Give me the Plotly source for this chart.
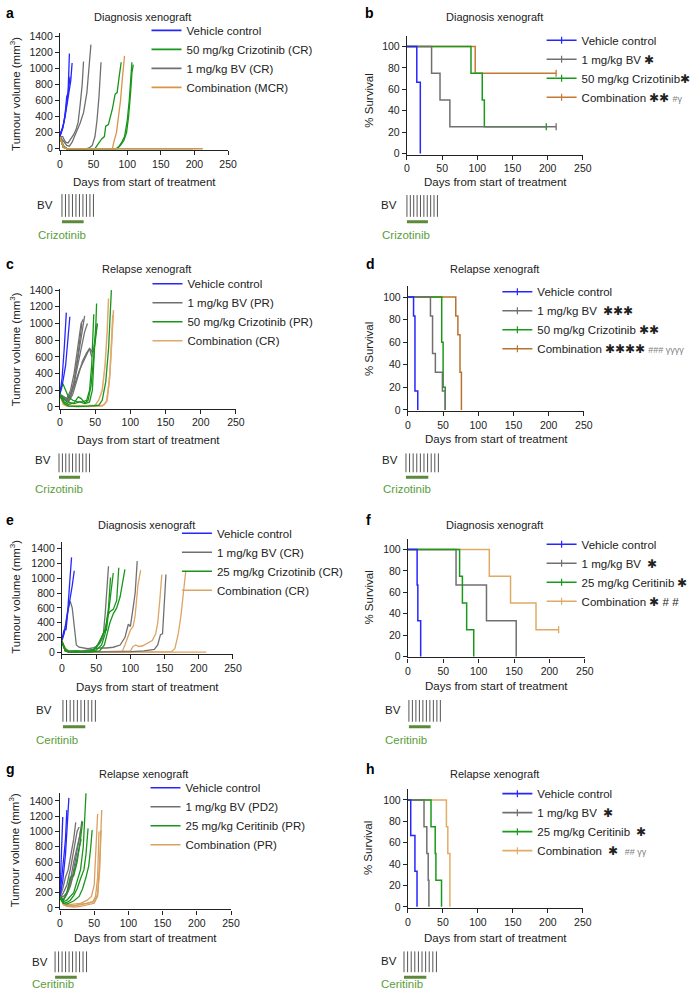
import plotly.graph_objects as go

W, H = 699, 997

# ---------------- DATA ----------------
# Panel a: tumour volume, diagnosis xenograft (crizotinib)
A_VEH = [
    ([0, 4, 7, 10, 12, 14], [150, 250, 380, 650, 700, 1190]),
    ([0, 4, 8, 11, 14, 16, 18], [180, 260, 420, 600, 750, 850, 1070]),
    ([0, 5, 9, 12, 15], [160, 300, 500, 680, 900]),
]
A_BV = [
    ([0, 4, 8, 12, 16, 20, 24, 27, 30, 33, 35], [150, 150, 80, 70, 120, 170, 240, 330, 550, 800, 1090]),
    ([0, 5, 10, 14, 18, 22, 26, 30, 35, 40, 43, 46], [150, 100, 40, 30, 80, 160, 230, 320, 450, 700, 1000, 1300]),
    ([0, 5, 10, 20, 40, 44, 48, 52, 55, 58, 61], [150, 40, 0, 0, 0, 10, 40, 150, 350, 650, 1080]),
    ([0, 5, 10, 212], [140, 20, 0, 0]),
]
A_CRIZ = [
    ([0, 5, 10, 52, 56, 62, 66, 68, 72, 75, 78, 82, 85, 88, 91],
     [150, 20, 0, 0, 50, 120, 150, 280, 300, 400, 500, 680, 700, 900, 1080]),
    ([0, 5, 10, 84, 88, 92, 96, 100, 103, 105, 107], [140, 15, 0, 0, 30, 80, 150, 350, 600, 850, 1080]),
    ([0, 5, 10, 85, 90, 95, 99, 102, 105, 107, 109], [140, 15, 0, 0, 40, 100, 200, 400, 700, 950, 1050]),
    ([0, 5, 10, 198], [150, 20, 0, 0]),
]
A_COMB = [
    ([0, 5, 10, 78, 80, 84, 87, 90, 93, 96], [150, 20, 0, 0, 80, 200, 400, 600, 900, 1160]),
    ([0, 6, 10, 212], [140, 10, 0, 0]),
]

# Panel b: survival (% survival steps), diagnosis xenograft
B_VEH = ([0, 14, 19], [100, 66.7, 0])
B_BV = ([0, 35, 47, 61, 212], [100, 75, 50, 25, 25])
B_CRIZ = ([0, 91, 107, 110, 198], [100, 75, 50, 25, 25])
B_COMB = ([0, 97, 212], [100, 75, 75])
B_CENSOR = {"bv": ([212], [25]), "criz": ([198], [25]), "comb": ([212], [75])}

# Panel c: tumour volume, relapse xenograft (crizotinib)
C_VEH = [
    ([0, 3, 6, 9], [160, 350, 700, 1130]),
    ([0, 4, 8, 11, 14], [180, 300, 500, 750, 1080]),
]
C_BV = [
    ([0, 5, 10, 15, 20, 25, 30, 33], [150, 120, 100, 200, 400, 700, 1000, 1050]),
    ([0, 5, 10, 15, 20, 25, 30, 35], [140, 100, 80, 150, 300, 550, 850, 1090]),
    ([0, 6, 12, 18, 24, 30, 35, 39], [130, 90, 80, 200, 450, 700, 900, 1000]),
    ([0, 6, 12, 18, 25, 32, 38, 42, 45], [150, 100, 60, 150, 350, 550, 650, 700, 600]),
    ([0, 6, 12, 20, 28, 36, 42, 47, 50, 53], [140, 110, 100, 250, 450, 600, 700, 650, 800, 1000]),
    ([0, 8, 14, 20, 26, 31], [120, 80, 90, 300, 650, 1000]),
]
C_CRIZ = [
    ([0, 4, 8, 12, 18, 25, 32, 38, 42, 45, 48], [150, 280, 200, 120, 80, 60, 60, 80, 200, 500, 1110]),
    ([0, 5, 10, 20, 28, 35, 40, 44, 48, 51, 52], [140, 100, 60, 40, 60, 40, 80, 250, 600, 1000, 1240]),
    ([0, 6, 12, 20, 26, 30, 36, 42, 46, 49, 53], [150, 60, 30, 50, 120, 100, 40, 60, 200, 700, 1000]),
    ([0, 6, 12, 25, 40, 55, 60, 65, 69, 71, 73], [130, 40, 10, 5, 10, 20, 80, 300, 700, 1100, 1400]),
]
C_COMB = [
    ([0, 5, 10, 30, 50, 55, 60, 64, 67, 69], [150, 40, 20, 10, 20, 80, 200, 500, 900, 1300]),
    ([0, 5, 10, 40, 60, 66, 70, 73, 76], [140, 30, 10, 5, 10, 60, 300, 700, 1160]),
    ([0, 5, 10, 40, 62, 67, 71, 74, 75], [140, 30, 10, 5, 20, 80, 400, 900, 1100]),
]

# Panel d: survival, relapse xenograft
D_VEH = ([0, 8, 10, 14], [100, 83.3, 16.7, 0])
D_BV = ([0, 32, 35, 39, 49, 53], [100, 83.3, 50, 33.3, 16.7, 0])
D_CRIZ = ([0, 48, 50, 53], [100, 60, 20, 0])
D_COMB = ([0, 68, 71, 74, 76], [100, 83.3, 66.7, 33.3, 0])

# Panel e: tumour volume, diagnosis xenograft (ceritinib)
E_VEH = [
    ([0, 3, 6, 8, 11, 14], [180, 300, 310, 500, 900, 1280]),
    ([0, 3, 6, 9, 12, 15, 18], [170, 250, 400, 550, 750, 900, 1100]),
]
E_BV = [
    ([0, 4, 8, 12, 15, 18, 21, 25, 30, 38, 45, 50, 55, 60, 63, 66, 68],
     [150, 300, 550, 690, 600, 300, 100, 70, 60, 50, 60, 80, 120, 200, 500, 900, 1160]),
    ([0, 5, 10, 30, 45, 55, 65, 75, 85, 92, 97, 100, 104, 107, 110],
     [150, 40, 20, 20, 40, 60, 60, 70, 100, 200, 380, 350, 600, 800, 1230]),
    ([0, 5, 10, 60, 100, 120, 135, 140, 144, 147, 150, 152],
     [140, 20, 5, 5, 10, 20, 40, 100, 240, 250, 700, 1050]),
]
E_CER = [
    ([0, 5, 10, 20, 30, 45, 52, 58, 62, 65, 68, 71], [150, 30, 10, 20, 10, 20, 100, 200, 280, 400, 600, 1010]),
    ([0, 5, 10, 25, 40, 50, 56, 60, 65, 68, 72, 75], [140, 20, 10, 5, 15, 60, 150, 250, 300, 550, 800, 1070]),
    ([0, 5, 10, 30, 50, 58, 63, 67, 70, 75, 80, 83], [140, 30, 10, 10, 30, 100, 250, 500, 550, 580, 700, 1140]),
    ([0, 5, 10, 40, 55, 62, 66, 70, 75, 80, 85, 88, 92], [130, 20, 5, 5, 20, 100, 250, 400, 520, 600, 750, 900, 1120]),
]
E_COMB = [
    ([0, 5, 10, 80, 88, 92, 96, 100, 104, 107, 111, 115], [150, 30, 5, 5, 10, 100, 200, 300, 350, 500, 900, 1110]),
    ([0, 5, 10, 60, 100, 104, 108, 112, 118, 125, 132, 137, 140, 143, 146],
     [150, 60, 20, 10, 20, 80, 100, 80, 90, 120, 160, 250, 400, 700, 1050]),
    ([0, 5, 10, 140, 160, 165, 170, 174, 178, 181], [150, 20, 5, 5, 10, 50, 250, 500, 800, 1100]),
    ([0, 5, 10, 211], [140, 20, 5, 5]),
]

# Panel f: survival, diagnosis xenograft (ceritinib)
F_VEH = ([0, 13, 14, 18], [100, 66.7, 33.3, 0])
F_BV = ([0, 68, 111, 153], [100, 66.7, 33.3, 0])
F_CER = ([0, 73, 77, 83, 93], [100, 75, 50, 25, 0])
F_COMB = ([0, 115, 145, 181, 213], [100, 75, 50, 25, 25])
F_CENSOR = {"comb": ([213], [25])}

# Panel g: tumour volume, relapse xenograft (ceritinib)
G_VEH = [
    ([0, 2, 4], [200, 600, 1190]),
    ([0, 3, 6, 8, 10], [180, 400, 700, 900, 1280]),
    ([0, 4, 8, 11, 13], [150, 350, 700, 1100, 1440]),
]
G_BV = [
    ([0, 4, 8, 12, 16, 20, 23], [150, 250, 400, 500, 700, 900, 1120]),
    ([0, 5, 10, 15, 20, 25, 28], [130, 200, 300, 500, 750, 1000, 1060]),
    ([0, 5, 10, 15, 20, 25, 29, 32], [150, 150, 200, 350, 600, 800, 950, 1140]),
    ([0, 5, 10, 15, 20, 25, 28, 31], [120, 100, 180, 280, 450, 650, 780, 900]),
    ([0, 6, 12, 18, 24, 27, 30], [140, 120, 220, 400, 700, 850, 1000]),
]
G_CER = [
    ([0, 5, 10, 15, 20, 25, 30, 33], [150, 100, 200, 400, 420, 600, 900, 1130]),
    ([0, 5, 10, 15, 20, 25, 30, 34, 38], [140, 80, 100, 150, 200, 350, 500, 800, 1500]),
    ([0, 5, 10, 15, 20, 25, 30, 35, 38, 41], [130, 60, 70, 100, 160, 250, 380, 500, 700, 1040]),
    ([0, 5, 10, 20, 28, 33, 38, 42, 45, 47], [130, 60, 50, 90, 150, 250, 400, 550, 800, 1020]),
]
G_COMB = [
    ([0, 5, 10, 20, 30, 40, 46, 50, 53, 55], [150, 50, 40, 50, 60, 100, 150, 300, 800, 1230]),
    ([0, 5, 10, 20, 30, 40, 48, 52, 55, 57], [150, 60, 30, 30, 40, 60, 80, 150, 400, 1000]),
    ([0, 5, 10, 20, 30, 40, 50, 55, 58, 60], [140, 40, 20, 10, 20, 40, 60, 150, 500, 1020]),
    ([0, 5, 10, 20, 30, 40, 50, 55, 58, 61], [140, 50, 30, 20, 50, 60, 80, 180, 600, 1280]),
]

# Panel h: survival, relapse xenograft (ceritinib)
H_VEH = ([0, 4, 10, 13], [100, 66.7, 33.3, 0])
H_BV = ([0, 23, 27, 29, 30], [100, 75, 50, 25, 0])
H_CER = ([0, 33, 39, 40, 48], [100, 75, 50, 25, 0])
H_COMB = ([0, 55, 57, 60], [100, 75, 50, 0])

# Treatment schedule glyphs
BV_DOSE_DAYS = [0, 5, 10, 15, 20, 25, 30, 35, 40, 45]
ALK_SPAN_DAYS = [0, 31]

# Axis ticks
X_TICKS = [0, 50, 100, 150, 200, 250]
VOL_TICKS = [0, 200, 400, 600, 800, 1000, 1200, 1400]
SURV_TICKS = [0, 20, 40, 60, 80, 100]

STAR = "\u2731"
def gray_small(t):
    return '<span style="color:#808080;font-size:9px">' + t + '</span>'

LEG_A = ["Vehicle control", "50 mg/kg Crizotinib (CR)", "1 mg/kg BV (CR)", "Combination (MCR)"]
LEG_B = ["Vehicle control", "1 mg/kg BV " + STAR, "50 mg/kg Crizotinib" + STAR,
         "Combination " + STAR + STAR + " " + gray_small("#\u03b3")]
LEG_C = ["Vehicle control", "1 mg/kg BV (PR)", "50 mg/kg Crizotinib (PR)", "Combination (CR)"]
LEG_D = ["Vehicle control", "1 mg/kg BV  " + STAR * 3, "50 mg/kg Crizotinib " + STAR * 2,
         "Combination " + STAR * 4 + " " + gray_small("### \u03b3\u03b3\u03b3\u03b3")]
LEG_E = ["Vehicle control", "1 mg/kg BV (CR)", "25 mg/kg Crizotinib (CR)", "Combination (CR)"]
LEG_F = ["Vehicle control", "1 mg/kg BV  " + STAR, "25 mg/kg Ceritinib " + STAR, "Combination " + STAR + " # #"]
LEG_G = ["Vehicle control", "1 mg/kg BV (PD2)", "25 mg/kg Ceritinib (PR)", "Combination (PR)"]
LEG_H = ["Vehicle control", "1 mg/kg BV  " + STAR, "25 mg/kg Ceritinib  " + STAR,
         "Combination  " + STAR + "  " + gray_small("## \u03b3\u03b3")]

BLUE = "#2626ff"
GRAY = "#707070"
GREEN = "#17961a"

# ---------------- LAYOUT HELPERS ----------------
FONT = "Liberation Sans, Arial, sans-serif"
INK = "#222222"


def xdom(p0, p250, lo, hi):
    s = (p250 - p0) / 250.0
    return [(p0 + lo * s) / W, (p0 + hi * s) / W]


def ydom(p_lo_val, v0, p_hi_val, v1, lo, hi):
    s = (p_lo_val - p_hi_val) / (v1 - v0)
    bottom = p_lo_val + (v0 - lo) * s
    top = p_hi_val - (hi - v1) * s
    return [1 - bottom / H, 1 - top / H]


fig = go.Figure()
layout = {}
annotations = []


def ann(text, x, y, size=11.5, color=INK, angle=0, xanchor="center", bold=False):
    if bold:
        text = "<b>" + text + "</b>"
    annotations.append(dict(text=text, x=x / W, y=1 - y / H, xref="paper", yref="paper",
                            showarrow=False, font=dict(size=size, color=color, family=FONT),
                            textangle=angle, xanchor=xanchor, yanchor="middle"))


def axis_key(kind, i):
    return kind + ("axis" if i == 1 else "axis%d" % i)


def ref(kind, i):
    return kind if i == 1 else kind + str(i)


PANELS = {
    1: dict(x0=58, x250=229, y0=145, yt=32, tv=1400, hi=1440, kind="vol"),
    2: dict(x0=411, x250=590, y0=150, yt=42, tv=100, hi=110, kind="surv"),
    3: dict(x0=58, x250=237, y0=406, yt=288, tv=1400, hi=1410, kind="vol"),
    4: dict(x0=412, x250=591, y0=409, yt=295, tv=100, hi=110, kind="surv"),
    5: dict(x0=60, x250=234, y0=654, yt=549, tv=1400, hi=1490, kind="vol"),
    6: dict(x0=412, x250=592, y0=658, yt=550, tv=100, hi=110, kind="surv"),
    7: dict(x0=58, x250=232, y0=912, yt=804, tv=1400, hi=1510, kind="vol"),
    8: dict(x0=412, x250=590, y0=911, yt=803, tv=100, hi=110, kind="surv"),
}

for i, p in PANELS.items():
    lo_y = -20 if p["kind"] == "vol" else -1
    xd = xdom(p["x0"], p["x250"], 0, 250)
    yd = ydom(p["y0"], 0, p["yt"], p["tv"], lo_y, p["hi"])
    common = dict(showline=True, linecolor=INK, linewidth=1.3, ticks="outside", ticklen=4,
                  tickwidth=1.2, tickcolor=INK, showgrid=False, zeroline=False,
                  tickfont=dict(size=10.5, color=INK, family=FONT), fixedrange=True)
    layout[axis_key("x", i)] = dict(domain=xd, range=[0, 250], tickvals=X_TICKS,
                                    anchor=ref("y", i), **common)
    layout[axis_key("y", i)] = dict(domain=yd, range=[lo_y, p["hi"]],
                                    tickvals=VOL_TICKS if p["kind"] == "vol" else SURV_TICKS,
                                    anchor=ref("x", i), **common)


def legend_name(i):
    return "legend" if i == 1 else "legend%d" % i


def add_curves(i, curves, color, name, width=1.3):
    for d, v in curves:
        fig.add_trace(go.Scatter(x=d, y=v, mode="lines", line=dict(color=color, width=width),
                                 xaxis=ref("x", i), yaxis=ref("y", i), name=name,
                                 legend=legend_name(i), showlegend=False, hoverinfo="skip"))


def add_vol_legend(i, entries):
    for name, color in entries:
        fig.add_trace(go.Scatter(x=[None], y=[None], mode="lines", line=dict(color=color, width=1.6),
                                 xaxis=ref("x", i), yaxis=ref("y", i), name=name,
                                 legend=legend_name(i), showlegend=True))


def add_surv(i, data, color, censor=None):
    d, v = data
    fig.add_trace(go.Scatter(x=d, y=v, mode="lines", line=dict(color=color, width=1.5, shape="hv"),
                             xaxis=ref("x", i), yaxis=ref("y", i), showlegend=False,
                             hoverinfo="skip"))
    if censor is not None:
        fig.add_trace(go.Scatter(x=censor[0], y=censor[1], mode="markers",
                                 marker=dict(symbol="line-ns-open", size=5, color=color,
                                             line=dict(color=color, width=1.3)),
                                 xaxis=ref("x", i), yaxis=ref("y", i), showlegend=False,
                                 hoverinfo="skip", cliponaxis=False))


def add_surv_legend(i, entries):
    for name, color in entries:
        fig.add_trace(go.Scatter(x=[None], y=[None], mode="lines+markers",
                                 line=dict(color=color, width=1.6),
                                 marker=dict(symbol="line-ns-open", size=5, color=color,
                                             line=dict(color=color, width=1.2)),
                                 xaxis=ref("x", i), yaxis=ref("y", i), name=name,
                                 legend=legend_name(i), showlegend=True))


# Panel a
add_curves(1, A_BV, GRAY, "bv")
add_curves(1, A_CRIZ, GREEN, "criz")
add_curves(1, A_COMB, "#d9944c", "comb")
add_curves(1, A_VEH, BLUE, "veh")
add_vol_legend(1, list(zip(LEG_A, [BLUE, GREEN, GRAY, "#d9944c"])))

# Panel b (drawn bottom -> top: combination, crizotinib, BV, vehicle)
add_surv(2, B_COMB, "#c47a30", B_CENSOR["comb"])
add_surv(2, B_CRIZ, "#1a9a1a", B_CENSOR["criz"])
add_surv(2, B_BV, GRAY, B_CENSOR["bv"])
add_surv(2, B_VEH, BLUE)
add_surv_legend(2, list(zip(LEG_B, [BLUE, GRAY, "#1a9a1a", "#c47a30"])))

# Panel c
add_curves(3, C_BV, GRAY, "bv")
add_curves(3, C_COMB, "#e0a86c", "comb", width=1.5)
add_curves(3, C_CRIZ, GREEN, "criz")
add_curves(3, C_VEH, BLUE, "veh")
add_vol_legend(3, list(zip(LEG_C, [BLUE, GRAY, GREEN, "#e0a86c"])))

# Panel d
add_surv(4, D_COMB, "#b8742e")
add_surv(4, D_CRIZ, "#1a9a1a")
add_surv(4, D_BV, GRAY)
add_surv(4, D_VEH, BLUE)
add_surv_legend(4, list(zip(LEG_D, [BLUE, GRAY, "#1a9a1a", "#b8742e"])))

# Panel e
add_curves(5, E_COMB, "#dca466", "comb")
add_curves(5, E_BV, GRAY, "bv")
add_curves(5, E_CER, GREEN, "cer")
add_curves(5, E_VEH, BLUE, "veh")
add_vol_legend(5, list(zip(LEG_E, [BLUE, GRAY, GREEN, "#dca466"])))

# Panel f
add_surv(6, F_COMB, "#e0aa66", F_CENSOR["comb"])
add_surv(6, F_BV, GRAY)
add_surv(6, F_CER, "#1a9a1a")
add_surv(6, F_VEH, BLUE)
add_surv_legend(6, list(zip(LEG_F, [BLUE, GRAY, "#1a9a1a", "#e0aa66"])))

# Panel g
add_curves(7, G_BV, GRAY, "bv")
add_curves(7, G_COMB, "#d9a05e", "comb")
add_curves(7, G_CER, GREEN, "cer")
add_curves(7, G_VEH, BLUE, "veh")
add_vol_legend(7, list(zip(LEG_G, [BLUE, GRAY, GREEN, "#d9a05e"])))

# Panel h
add_surv(8, H_COMB, "#e2ac68")
add_surv(8, H_CER, "#1a9a1a")
add_surv(8, H_BV, GRAY)
add_surv(8, H_VEH, BLUE)
add_surv_legend(8, list(zip(LEG_H, [BLUE, GRAY, "#1a9a1a", "#e2ac68"])))

# Legends: (text start px, first entry center px)
LEG_POS = {1: (186, 32), 2: (588, 42), 3: (187, 288), 4: (543, 296),
           5: (217, 540), 6: (588, 551), 7: (185, 797), 8: (543, 803)}
for i, (tx, ty) in LEG_POS.items():
    layout[legend_name(i)] = dict(x=(tx - 40) / W, y=1 - (ty - 21) / H, xanchor="left", yanchor="top",
                                  bgcolor="rgba(0,0,0,0)", borderwidth=0, tracegroupgap=0,
                                  font=dict(size=11.5, color=INK, family=FONT), itemwidth=30,
                                  itemclick=False, itemdoubleclick=False)

# Schedule glyphs: (tick left px, tick right px, tick top px, bar px)
SCHED = {1: (60, 92, 191, 219), 2: (411, 442, 192, 219), 3: (57, 88, 453, 477), 4: (410, 443, 453, 477),
         5: (61, 94, 702, 729), 6: (413, 445, 702, 729), 7: (53, 85, 956, 982), 8: (408, 441, 956, 982)}
for i, (l, r, t, b) in SCHED.items():
    j = i + 8
    s = (r - l) / float(BV_DOSE_DAYS[-1] - BV_DOSE_DAYS[0])
    layout[axis_key("x", j)] = dict(domain=[(l - 3 * s) / W, (r + 3 * s) / W],
                                    range=[BV_DOSE_DAYS[0] - 3, BV_DOSE_DAYS[-1] + 3],
                                    visible=False, fixedrange=True, anchor=ref("y", j))
    sy = (b - t) / 1.0
    layout[axis_key("y", j)] = dict(domain=[1 - (b + 0.3 * sy) / H, 1 - (t - 0.05 * sy) / H],
                                    range=[-0.3, 1.05], visible=False, fixedrange=True, anchor=ref("x", j))
    tick_lo = 5.0 / (b - t)
    xs, ys = [], []
    for d in BV_DOSE_DAYS:
        xs += [d, d, None]
        ys += [tick_lo, 1, None]
    fig.add_trace(go.Scatter(x=xs, y=ys, mode="lines", line=dict(color="#555555", width=1),
                             xaxis=ref("x", j), yaxis=ref("y", j), showlegend=False, hoverinfo="skip"))
    fig.add_trace(go.Scatter(x=ALK_SPAN_DAYS, y=[0, 0], mode="lines", line=dict(color="#5a8a3a", width=3),
                             xaxis=ref("x", j), yaxis=ref("y", j), showlegend=False, hoverinfo="skip"))

# ---------------- TEXT ----------------
LETTERS = {"a": (1, 8), "b": (366, 8), "c": (1, 262), "d": (367, 262),
           "e": (1, 520), "f": (367, 520), "g": (1, 772), "h": (367, 772)}
for k, (x, y) in LETTERS.items():
    ann(k, x, y, size=14, xanchor="left", bold=True, color="#000000")

TITLES = [("Diagnosis xenograft", 142, 12), ("Diagnosis xenograft", 500, 12),
          ("Relapse xenograft", 146, 267), ("Relapse xenograft", 500, 267),
          ("Diagnosis xenograft", 146, 525), ("Diagnosis xenograft", 500, 525),
          ("Relapse xenograft", 143, 777), ("Relapse xenograft", 500, 777)]
for t, x, y in TITLES:
    ann(t, x, y, size=11)

XLAB = [(144, 179), (501, 179), (148, 439), (502, 438), (147, 689), (502, 688), (145, 942), (501, 942)]
for x, y in XLAB:
    ann("Days from start of treatment", x, y, size=11.5)

YVOL = [(12, 90), (12, 348), (12, 598), (12, 854)]
for x, y in YVOL:
    ann("Tumour volume (mm<sup>3</sup>)", x, y, size=11.5, angle=-90)
YSURV = [(372, 97), (372, 348), (372, 599), (372, 852)]
for x, y in YSURV:
    ann("% Survival", x, y, size=11.5, angle=-90)

BV_LAB = [(43, 202), (393, 202), (41, 460), (394, 460), (42, 712), (397, 712), (38, 967), (393, 966)]
for x, y in BV_LAB:
    ann("BV", x, y, size=11.5)
DRUG_LAB = [("Crizotinib", 60, 232), ("Crizotinib", 410, 232), ("Crizotinib", 57, 489), ("Crizotinib", 411, 489),
            ("Ceritinib", 55, 742), ("Ceritinib", 410, 742), ("Ceritinib", 51, 989), ("Ceritinib", 406, 989)]
for t, x, y in DRUG_LAB:
    ann(t, x, y, size=11.5, color="#5a9e3a")

layout.update(dict(width=W, height=H, margin=dict(l=0, r=0, t=0, b=0), paper_bgcolor="white",
                   plot_bgcolor="rgba(0,0,0,0)", annotations=annotations,
                   font=dict(family=FONT, color=INK)))
fig.update_layout(**layout)
fig.write_html("out.html", config={"displayModeBar": False},
               post_script="document.body.style.margin='0px';document.body.style.overflow='hidden';")
